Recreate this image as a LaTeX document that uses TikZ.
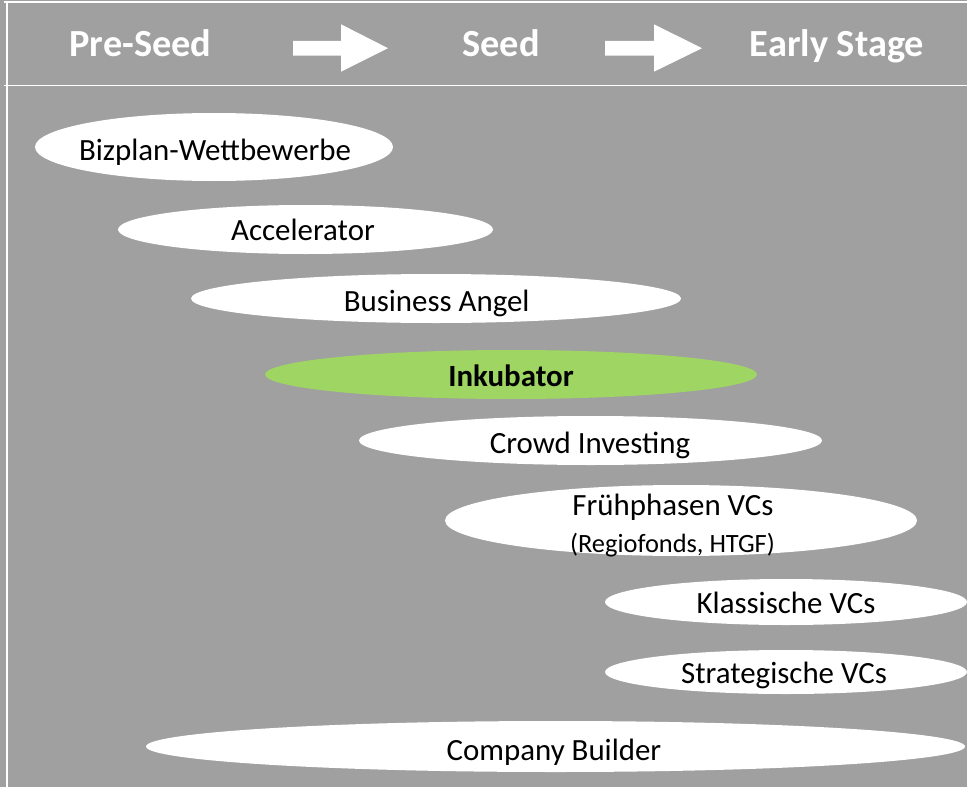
\documentclass[tikz,border=0pt]{standalone}
\usepackage{fontspec}
\setmainfont{Carlito}
\usetikzlibrary{shapes.geometric}
\definecolor{bggray}{RGB}{160,160,160}
\definecolor{inkgreen}{RGB}{159,213,98}
\tikzset{
  ell/.style={ellipse, fill=white, draw=none, inner sep=0pt},
  lbl/.style={anchor=base, inner sep=0pt, font=\fontsize{31}{36}\selectfont, text=black},
  head/.style={anchor=base, inner sep=0pt, font=\fontsize{38.5}{44}\selectfont\bfseries, text=white},
  rule/.style={draw=white, line width=1.6bp},
  bigarrow/.style={fill=white, draw=none}
}
\begin{document}
\begin{tikzpicture}[x=1bp,y=-1bp]
\useasboundingbox (0,0) rectangle (967,787);
\fill[bggray] (0,0) rectangle (967,787);
% frame lines
\draw[rule] (4,2) -- (967,2);
\draw[rule] (7,2) -- (7,787);
\draw[rule] (4,85.5) -- (967,85.5);
% header
\node[head] (pre) at (140.5,56.5) {Pre-Seed};
\node[head] (seed) at (501,56.5) {Seed};
\node[head] (early) at (837,56.5) {Early Stage};
\fill[bigarrow] (293,41) -- (341,41) -- (341,24.3) -- (388,48.2) -- (341,71.7) -- (341,55.7) -- (293,55.7) -- cycle;
\fill[bigarrow] (605,41) -- (654,41) -- (654,24.3) -- (702,48.2) -- (654,71.7) -- (654,55.7) -- (605,55.7) -- cycle;
% ellipses
\node[ell, minimum width=358bp, minimum height=68bp] (biz) at (214,147) {};
\node[lbl] (bizt) at (215,160) {Bizplan-Wettbewerbe};
\node[ell, minimum width=375bp, minimum height=49bp] (acc) at (305.5,229.5) {};
\node[lbl] (acct) at (303,240.7) {Accelerator};
\node[ell, minimum width=490bp, minimum height=49bp] (ba) at (436,298.5) {};
\node[lbl] (bat) at (436.7,311.7) {Business Angel};
\node[ell, fill=inkgreen, minimum width=492bp, minimum height=49bp] (ink) at (511,374.5) {};
\node[lbl, font=\fontsize{31}{36}\selectfont\bfseries] (inkt) at (511,386) {Inkubator};
\node[ell, minimum width=463bp, minimum height=49bp] (ci) at (590.5,440.5) {};
\node[lbl] (cit) at (590,453.3) {Crowd Investing};
\node[ell, minimum width=472bp, minimum height=71bp] (fp) at (681,520.5) {};
\node[lbl] (fpt) at (673,515) {Frühphasen VCs};
\node[lbl, font=\fontsize{26.5}{31}\selectfont] (fpt2) at (672.5,552.7) {(Regiofonds, HTGF)};
\node[ell, minimum width=362bp, minimum height=46bp] (kv) at (786,602) {};
\node[lbl] (kvt) at (786,613.3) {Klassische VCs};
\node[ell, minimum width=362bp, minimum height=44bp] (sv) at (786,672) {};
\node[lbl] (svt) at (784,683.3) {Strategische VCs};
\node[ell, minimum width=819bp, minimum height=51bp] (cb) at (555.5,746.5) {};
\node[lbl] (cbt) at (554,760) {Company Builder};
\end{tikzpicture}
\end{document}
